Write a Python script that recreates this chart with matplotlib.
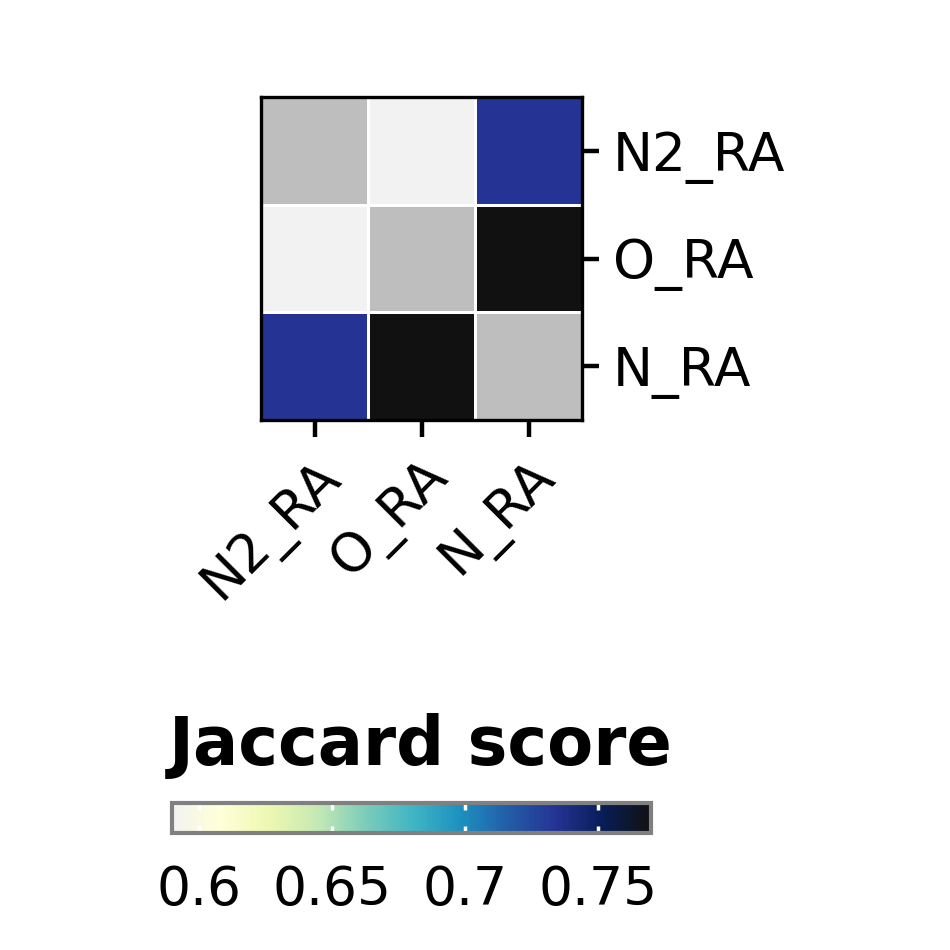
import numpy as np
import matplotlib
matplotlib.use("Agg")
import matplotlib.pyplot as plt
from matplotlib.colors import LinearSegmentedColormap

labels = ["N2_RA", "O_RA", "N_RA"]
row_n2 = [np.nan, 0.590, 0.734]
row_o = [0.590, np.nan, 0.770]
row_n = [0.734, 0.770, np.nan]
cbar_ticks = [0.6, 0.65, 0.7, 0.75]
cbar_ticklabels = ["0.6", "0.65", "0.7", "0.75"]

data = np.array([row_n2, row_o, row_n])

colors = ['#f2f2f2', '#ffffd9', '#edf8b1', '#c7e9b4', '#7fcdbb', '#41b6c4',
          '#1d91c0', '#225ea8', '#253494', '#081d58', '#111111']
cmap = LinearSegmentedColormap.from_list("jac", colors)
cmap.set_bad('#bebebe')

plt.rcParams['font.family'] = ['DejaVu Sans']
fig = plt.figure(figsize=(9.5, 9.5), dpi=100)
W = 950.0
ax = fig.add_axes([261 / W, 1 - 420 / W, 321 / W, 323 / W])
vmin, vmax = np.nanmin(data), np.nanmax(data)
m = ax.pcolormesh(np.ma.masked_invalid(data), cmap=cmap, vmin=vmin, vmax=vmax,
                  edgecolors='white', linewidth=2)
ax.set_xlim(0, 3)
ax.set_ylim(3, 0)
ax.set_xticks(np.arange(3) + 0.5)
ax.set_yticks(np.arange(3) + 0.5)
ax.set_xticklabels(labels, rotation=45, ha='right', va='top', rotation_mode='anchor', fontsize=38.5)
ax.set_yticklabels(labels, fontsize=38.5)
ax.yaxis.tick_right()
ax.tick_params(axis='both', length=12, width=3.2, pad=10)
for s in ax.spines.values():
    s.set_linewidth(2.4)

cax = fig.add_axes([172 / W, 1 - 833 / W, 479 / W, 30 / W])
cb = fig.colorbar(m, cax=cax, orientation='horizontal')
cb.set_ticks(cbar_ticks)
cb.set_ticklabels(cbar_ticklabels)
cax.tick_params(axis='x', direction='in', color='white', length=5, width=2.5,
                labelsize=38.5, top=True, bottom=True, pad=22)
cb.outline.set_edgecolor('#808080')
cb.outline.set_linewidth(3)
fig.text(421 / W, 1 - 765 / W, "Jaccard score", fontsize=48.3, fontweight='bold',
         ha='center', va='baseline')

fig.savefig("out.png", dpi=100, facecolor='white')
